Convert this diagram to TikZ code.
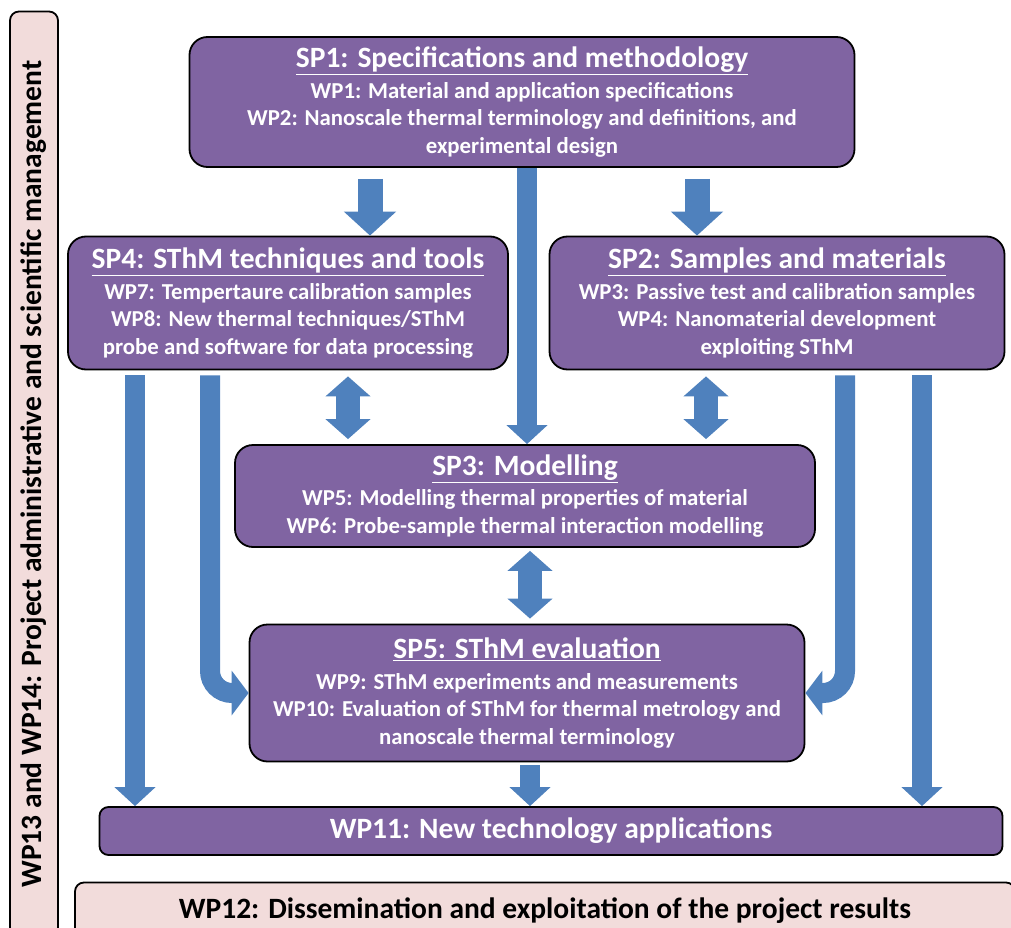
\documentclass[tikz,border=0pt]{standalone}
\usepackage{fontspec}
\setmainfont{Carlito}
\usetikzlibrary{arrows.meta}
\definecolor{BoxPurple}{HTML}{8064A2}
\definecolor{BoxPink}{HTML}{F2DCDB}
\definecolor{ArrowBlue}{HTML}{4F81BD}
\newcommand{\sptitle}[1]{{\fontsize{29.5}{32}\selectfont\underline{#1}}}

\begin{document}
\begin{tikzpicture}[
    x=1pt, y=-1pt,
    spbox/.style={
        draw=black,
        line width=1.8pt,
        fill=BoxPurple,
        rounded corners=18pt,
        text=white,
        font=\bfseries\fontsize{22.8}{27.5}\selectfont,
        align=center,
        inner sep=0pt
    },
    pinkbox/.style={
        draw=black,
        line width=1.8pt,
        fill=BoxPink,
        rounded corners=9pt,
        text=black,
        font=\bfseries\fontsize{29.5}{32}\selectfont,
        inner sep=0pt
    },
    bigarrow/.style={
        draw=ArrowBlue,
        line width=25pt,
        -{Triangle[width=51pt,length=24pt]}
    },
    longarrow/.style={
        draw=ArrowBlue,
        line width=20pt,
        -{Triangle[width=40pt,length=19pt]}
    },
    bendarrow/.style={
        draw=ArrowBlue,
        line width=20pt,
        rounded corners=22pt,
        -{Triangle[width=44pt,length=17pt]}
    },
    dblarrow/.style={
        draw=ArrowBlue,
        line width=24pt,
        {Triangle[width=44pt,length=20pt]}-{Triangle[width=44pt,length=20pt]}
    }
]

\useasboundingbox (0,0) rectangle (1011,928);
\clip (0,0) rectangle (1011,928);

\node[pinkbox, rotate=90, minimum width=925pt, minimum height=48pt] (mgmt) at (34,474)
    {WP13 and WP14: Project administrative and scientific management};

\node[spbox, minimum width=665pt, minimum height=130pt] (sp1) at (522,102)
    {\sptitle{SP1: Specifications and methodology}\\[3pt]
     WP1: Material and application specifications\\
     WP2: Nanoscale thermal terminology and definitions, and\\
     experimental design};

\node[spbox, minimum width=440pt, minimum height=133pt] (sp4) at (288,303)
    {\sptitle{SP4: SThM techniques and tools}\\[3pt]
     WP7: Tempertaure calibration samples\\
     WP8: New thermal techniques/SThM\\
     probe and software for data processing};

\node[spbox, minimum width=455pt, minimum height=133pt] (sp2) at (777,303)
    {\sptitle{SP2: Samples and materials}\\[3pt]
     WP3: Passive test and calibration samples\\
     WP4: Nanomaterial development\\
     exploiting SThM};

\node[spbox, minimum width=580pt, minimum height=102pt] (sp3) at (525,496)
    {\sptitle{SP3: Modelling}\\[3pt]
     WP5: Modelling thermal properties of material\\
     WP6: Probe-sample thermal interaction modelling};

\node[spbox, minimum width=555pt, minimum height=137pt] (sp5) at (527,693)
    {\sptitle{SP5: SThM evaluation}\\[3pt]
     WP9: SThM experiments and measurements\\
     WP10: Evaluation of SThM for thermal metrology and\\
     nanoscale thermal terminology};

\node[spbox, rounded corners=9pt, font=\bfseries\fontsize{29.5}{32}\selectfont,
      minimum width=903pt, minimum height=48pt] (wp11) at (551,831)
    {WP11: New technology applications};

\node[pinkbox, minimum width=940pt, minimum height=57pt] (wp12) at (545,911)
    {WP12: Dissemination and exploitation of the project results};

% arrows out of SP1
\draw[bigarrow] ([xshift=-152pt,yshift=-11pt]sp1.south) -- ([xshift=82pt]sp4.north);
\draw[bigarrow] ([xshift=175pt,yshift=-11pt]sp1.south) -- ([xshift=-80pt]sp2.north);
\draw[longarrow] ([xshift=5pt]sp1.south) -- ([xshift=5pt]sp1.south |- sp3.north);

% links with SP3
\draw[dblarrow] ([xshift=60pt,yshift=-6pt]sp4.south) -- ([xshift=60pt,yshift=5pt]sp4.south |- sp3.north);
\draw[dblarrow] ([xshift=-71pt,yshift=-6pt]sp2.south) -- ([xshift=-71pt,yshift=5pt]sp2.south |- sp3.north);
\draw[dblarrow] ([xshift=5pt,yshift=-3pt]sp3.south) -- ([xshift=5pt,yshift=5pt]sp3.south |- sp5.north);

% down to SP5 and WP11
\draw[longarrow] ([xshift=-153pt,yshift=-5pt]sp4.south) -- ([xshift=-153pt]sp4.south |- wp11.north);
\draw[bendarrow] ([xshift=-78pt,yshift=-5pt]sp4.south) |- (sp5.west);
\draw[bendarrow] ([xshift=68pt,yshift=-5pt]sp2.south) |- (sp5.east);
\draw[longarrow] ([xshift=145pt,yshift=-5pt]sp2.south) -- ([xshift=145pt]sp2.south |- wp11.north);
\draw[longarrow] ([xshift=3pt,yshift=-3pt]sp5.south) -- ([xshift=3pt]sp5.south |- wp11.north);

\end{tikzpicture}
\end{document}
